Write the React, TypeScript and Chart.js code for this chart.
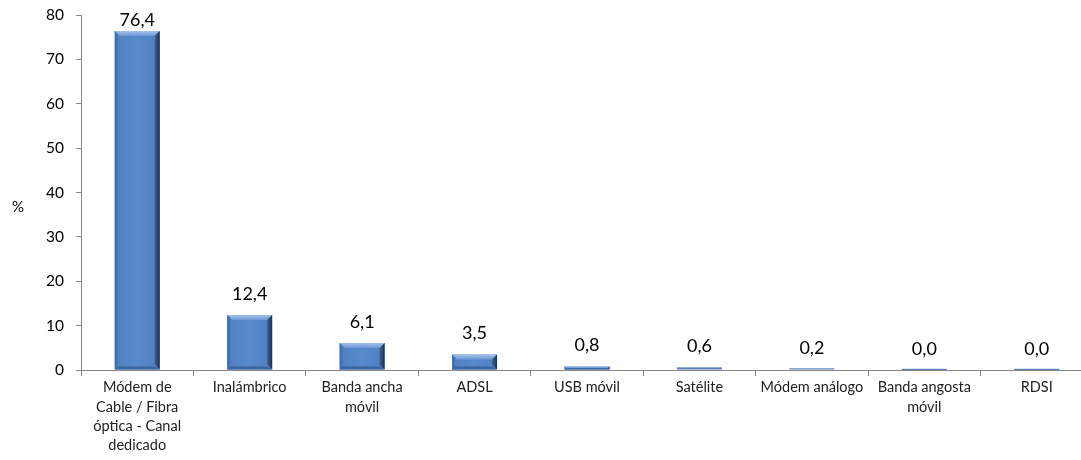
import React, { useEffect, useRef } from "react";
import { Chart, registerables } from "chart.js";

Chart.register(...registerables);

const categories: (string | string[])[] = [
  ["Módem de", "Cable / Fibra", "óptica - Canal", "dedicado"],
  "Inalámbrico",
  ["Banda ancha", "móvil"],
  "ADSL",
  "USB móvil",
  "Satélite",
  "Módem análogo",
  ["Banda angosta", "móvil"],
  "RDSI",
];
const values: number[] = [76.4, 12.4, 6.1, 3.5, 0.8, 0.6, 0.2, 0.0, 0.0];
const yTicks: number[] = [0, 10, 20, 30, 40, 50, 60, 70, 80];
const axisTitle = "%";

const FONT = "Lato, 'Liberation Sans', sans-serif";

const bevelPlugin = {
  id: "bevel",
  afterDatasetsDraw(chart: any) {
    const ctx = chart.ctx;
    const meta = chart.getDatasetMeta(0);
    meta.data.forEach((bar: any) => {
      const w = bar.width;
      const x0 = bar.x - w / 2;
      const x1 = bar.x + w / 2;
      const top = bar.y;
      const bottom = bar.base;
      const h = bottom - top;
      ctx.save();
      if (h < 2.5) {
        ctx.fillStyle = "#5a82b8";
        ctx.fillRect(x0, bottom - Math.max(h, 1.2), w, Math.max(h, 1.2));
        ctx.restore();
        return;
      }
      const b = Math.min(5, h / 2);
      const g = ctx.createLinearGradient(x0, 0, x1, 0);
      g.addColorStop(0, "#4f80c2");
      g.addColorStop(0.5, "#5889cb");
      g.addColorStop(1, "#4e7fc0");
      ctx.fillStyle = g;
      ctx.fillRect(x0, top, w, h);
      ctx.beginPath();
      ctx.moveTo(x0, top);
      ctx.lineTo(x1, top);
      ctx.lineTo(x1 - b, top + b);
      ctx.lineTo(x0 + b, top + b);
      ctx.closePath();
      const gt = ctx.createLinearGradient(0, top, 0, top + b);
      gt.addColorStop(0, "#a3c2ea");
      gt.addColorStop(1, "#6d98d4");
      ctx.fillStyle = gt;
      ctx.fill();
      const bl = Math.min(3, b);
      ctx.beginPath();
      ctx.moveTo(x0, top);
      ctx.lineTo(x0 + bl, top + bl);
      ctx.lineTo(x0 + bl, bottom - bl);
      ctx.lineTo(x0, bottom);
      ctx.closePath();
      ctx.fillStyle = "#4572ad";
      ctx.fill();
      ctx.beginPath();
      ctx.moveTo(x1, top);
      ctx.lineTo(x1 - b, top + b);
      ctx.lineTo(x1 - b, bottom - b);
      ctx.lineTo(x1, bottom);
      ctx.closePath();
      const gr = ctx.createLinearGradient(x1 - b, 0, x1, 0);
      gr.addColorStop(0, "#3a6296");
      gr.addColorStop(1, "#1a3252");
      ctx.fillStyle = gr;
      ctx.fill();
      const bb = Math.min(3, b);
      ctx.beginPath();
      ctx.moveTo(x0, bottom);
      ctx.lineTo(x0 + bl, bottom - bb);
      ctx.lineTo(x1 - b, bottom - bb);
      ctx.lineTo(x1, bottom);
      ctx.closePath();
      ctx.fillStyle = "#3a659d";
      ctx.fill();
      ctx.restore();
    });
  },
  afterDraw(chart: any) {
    const ctx = chart.ctx;
    const meta = chart.getDatasetMeta(0);
    const area = chart.chartArea;
    ctx.save();
    ctx.font = `18px ${FONT}`;
    ctx.fillStyle = "#000";
    ctx.textAlign = "center";
    ctx.textBaseline = "middle";
    meta.data.forEach((bar: any, i: number) => {
      const v = values[i];
      const y = Math.max(bar.y - 21, area.top + 5);
      ctx.fillText(v.toFixed(1).replace(".", ","), bar.x, y);
    });
    ctx.font = `15px ${FONT}`;
    ctx.fillText(axisTitle, 18, (area.top + area.bottom) / 2 + 15);
    ctx.restore();
  },
};

export default function App() {
  const ref = useRef<HTMLCanvasElement | null>(null);
  useEffect(() => {
    if (!ref.current) return;
    const chart = new Chart(ref.current, {
      type: "bar",
      data: {
        labels: categories,
        datasets: [
          {
            data: values,
            backgroundColor: "rgba(0,0,0,0)",
            barPercentage: 0.4,
            categoryPercentage: 1,
          },
        ],
      },
      options: {
        animation: false,
        responsive: false,
        maintainAspectRatio: false,
        layout: { padding: { top: 15, right: 0, bottom: 0, left: 0 } },
        plugins: {
          legend: { display: false },
          tooltip: { enabled: false },
        },
        scales: {
          x: {
            grid: {
              display: true,
              offset: true,
              drawOnChartArea: false,
              drawTicks: true,
              tickLength: 6,
              color: "#868686",
            },
            border: { display: true, color: "#868686", width: 1 },
            ticks: {
              color: "#222",
              font: { family: FONT, size: 14.5, lineHeight: 1.33 },
              maxRotation: 0,
              autoSkip: false,
              padding: 2,
            },
            afterFit(scale: any) {
              scale.height = 90;
            },
          },
          y: {
            min: 0,
            max: 80,
            afterBuildTicks(scale: any) {
              scale.ticks = yTicks.map((v) => ({ value: v }));
            },
            grid: {
              display: true,
              drawOnChartArea: false,
              drawTicks: true,
              tickLength: 5,
              color: "#868686",
            },
            border: { display: true, color: "#868686", width: 1 },
            ticks: {
              color: "#000",
              font: { family: FONT, size: 15.5, lineHeight: 0.3 },
              padding: 12,
            },
            afterFit(scale: any) {
              scale.width = 81;
            },
          },
        },
      },
      plugins: [bevelPlugin],
    });
    return () => chart.destroy();
  }, []);
  return (
    <div
      style={{
        position: "absolute",
        left: 0,
        top: 0,
        width: 1081,
        height: 460,
        overflow: "hidden",
        background: "#fff",
      }}
    >
      <canvas ref={ref} width={1093} height={460} style={{ display: "block" }} />
    </div>
  );
}
